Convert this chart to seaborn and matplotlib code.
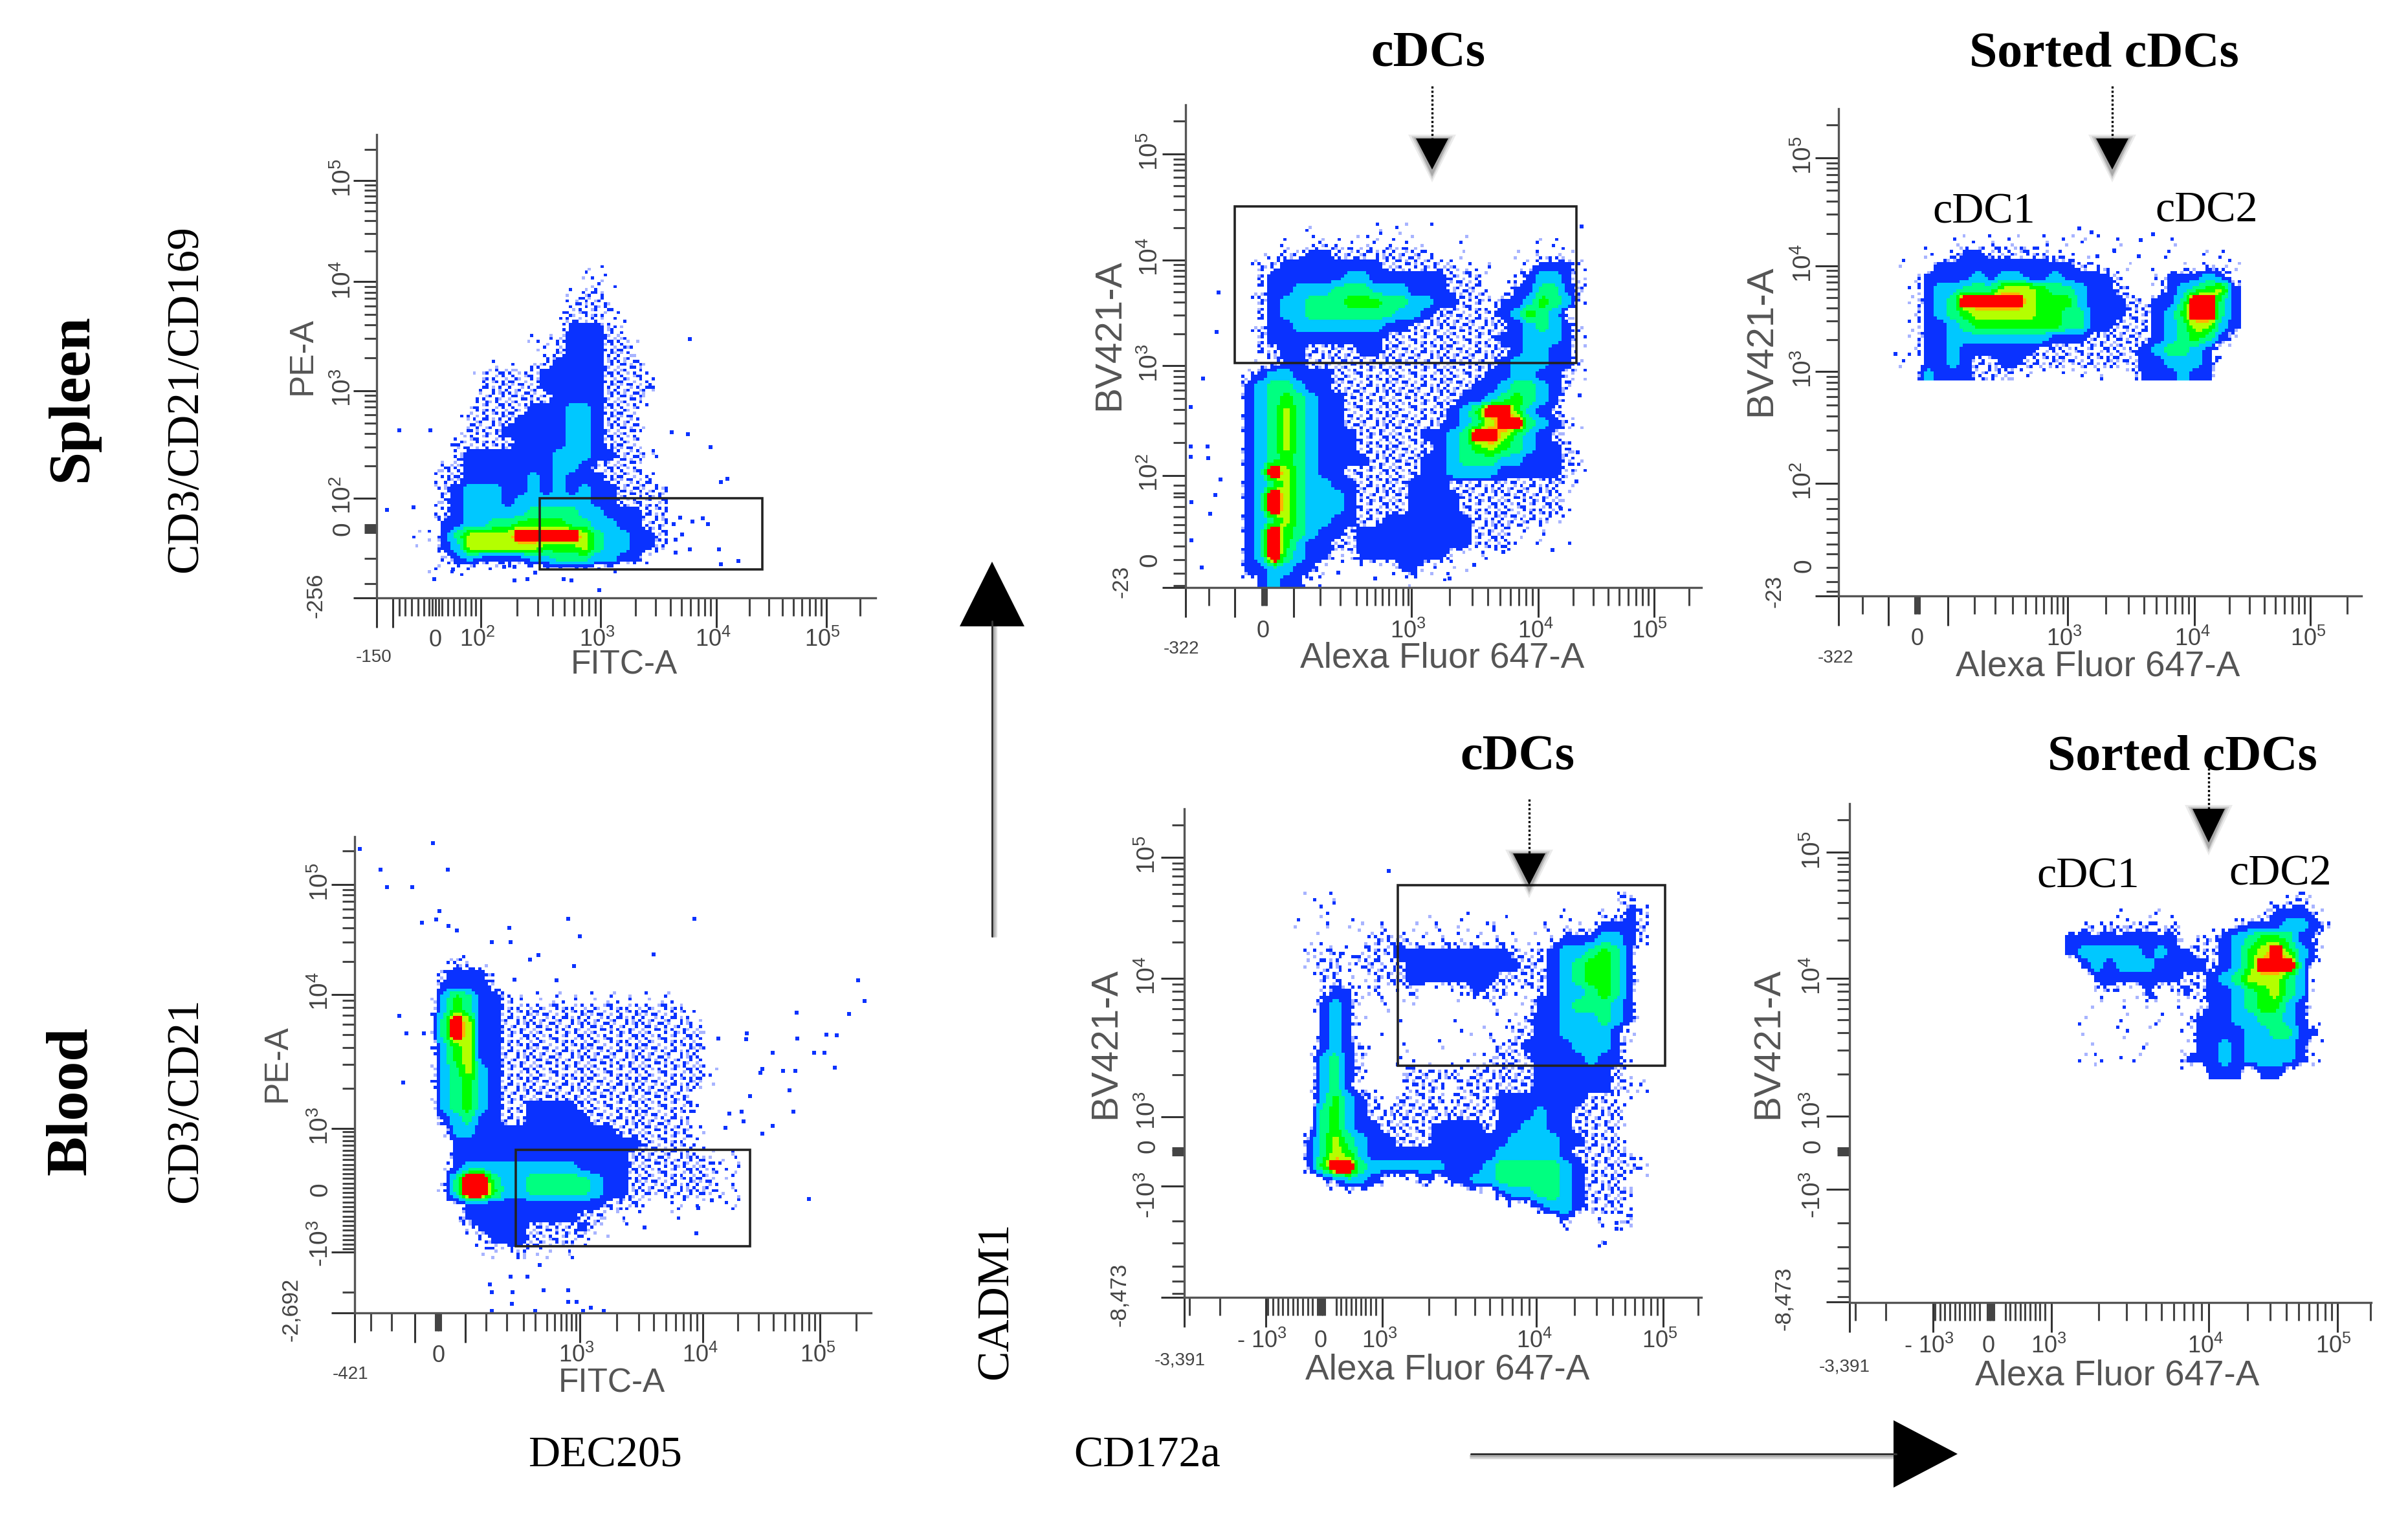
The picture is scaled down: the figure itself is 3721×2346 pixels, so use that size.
import matplotlib
matplotlib.use('Agg')
import matplotlib.pyplot as plt
from matplotlib.colors import ListedColormap
from matplotlib.patches import Rectangle
import numpy as np
import seaborn as sns

WIDTH = 3721
HEIGHT = 2346
# panel units: 1.568 to one output pixel across, yunit of the panel going down
UNIT = 1.568
CELL = 31
FINE = 4

COLORS = ['#FFFFFF', '#0A32FF', '#00C8FF', '#00FF80', '#00FF00', '#B4FF00', '#FFB400', '#FF0000', '#A8B4FF']
TILE_CODES = {'.': 0, 'b': 1, 'p': 8}
SPECKLE_DENSE = [
    'b.p..bb.p...b.pb.', '.bb.p..b..pb...b.', 'p...bb.p.b...bp..', '.pb....b..bp.b..p', 'b..p.b...pb...bb.',
    '.b...pbb.....p.b.', '..bp...b.pb.b...p', 'bb...p...b..pb.b.', '.p.bb..p..b....bp', 'b...p.b..bb.p.b..',
    '..pb...pb...b.p.b',
]
SPECKLE_SPARSE = [
    '....p.......b....', '.b......p........', '.......b.....p...', '..p..........b...', '......p..b.......',
    'b...........p....', '....b......b.....', '.........p......b', '..b..............', '.....p.....b.....',
    '.p.........p.....',
]

# density levels per row: level character followed by its run length
SPLEEN_LIVE = [
    '.14 t2', '.14 t3', '.13 t s2 t', '.13 s4', '.12 t s3 t2', '.12 t 13 s t', '.10 t . s 13 s2 t',
    '.10 t2 s 13 s2 t', '.7 t2 . t s 14 s3 t', '.6 s5 15 s3 t', '.6 s5 15 s4', '.6 s6 14 s3 t',
    '.5 s5 13 22 1 s3', '.5 s4 14 22 1 s3', '.5 s3 15 22 1 s3', '.4 s5 14 22 1 s3', '.4 s 17 23 12 s3',
    '.3 s2 17 22 1 s4', '.3 s2 15 2 1 2 13 s4', '.3 s 1 23 12 2 1 2 1 2 12 s4', '.3 s 1 23 1 26 12 s4',
    '.3 s 1 25 34 22 13 s2', '.3 12 22 32 44 32 22 12 s2', '. t2 1 3 54 75 5 3 22 12 s',
    '. t2 1 2 54 52 43 5 3 22 12 s', '.3 t 1 2 14 22 33 22 12 t', '.2 t3 .2 t .3 t .2 t . t',
]
SPLEEN_GATED = [
    '.6 t .4 t3 . t', '.4 t . t9 .3 t .5 t2', '.3 t s2 12 s8 t . t .3 t . t3', '.2 s2 18 s6 t . t . t2 13 t',
    '.2 s 16 22 16 s3 t . t 1 22 1 t', '.2 s 12 23 33 23 13 s3 t . 12 32 1 s',
    '.2 s 1 22 33 43 32 22 12 s2 t 12 2 4 3 2 t', '.2 s 1 22 37 22 1 s5 1 2 4 3 2 t',
    '.2 s 12 27 12 s8 1 2 3 2 1 t', '.2 s 19 s9 12 23 1 t', '.2 s2 12 s4 12 s10 1 22 12 t',
    '.2 t2 12 s15 1 23 12 t', '. t 1 22 13 s12 12 22 12 s t', '. 1 2 32 2 12 s11 12 2 32 2 1 s t',
    '. 1 2 3 4 3 2 12 s9 12 2 3 4 3 2 1 t', '. 1 2 3 5 3 2 12 s8 1 2 4 72 4 2 1 s',
    '. 1 2 3 5 3 2 12 s8 1 2 3 5 72 3 2 1 s t', '. 1 2 3 5 3 2 13 s5 12 2 3 72 5 3 2 1 s t',
    '. 1 2 3 5 3 2 13 s6 1 2 3 4 5 4 3 2 12 s', '. 1 2 3 4 3 2 14 s4 12 2 33 22 13 s t',
    '. 1 2 7 5 3 2 12 s6 12 24 14 1 s t', '. 1 2 3 5 3 22 12 s4 13 s8 s t', '. 1 2 7 5 3 23 1 s4 14 s8 t',
    '. 1 2 7 5 3 23 1 s4 14 s8 t', '. 1 2 3 5 3 22 12 s2 17 s6 t', '. 1 2 7 4 3 2 12 s 19 s3 t . t',
    '. 1 2 7 4 2 12 s2 19 s3 t . t . t', '. 1 2 7 3 2 12 t2 17 t .2 t', '. 12 22 12 .6 12 t . t2',
    '.2 1 2 12 . t .6 t . t .3 t',
]
SPLEEN_SORTED = [
    '.4 t2 . t3 . t5 . t .3 t', '.2 t . t 12 s5 t2 .3 t .3 t .2 t2', 't . t 111 s2 t . t . t . t5',
    '. t 14 2 1 22 12 2 1 13 s .2 t 13 2 1 t', '. t 1 22 33 53 4 32 2 12 s t . t 1 2 3 4 5 1',
    '. t 1 2 3 75 5 43 2 13 s2 12 3 72 3 1', '. t 1 2 3 4 55 42 32 13 s2 1 2 4 72 3 1',
    '. t 12 2 3 47 32 12 s3 1 2 3 52 2 1', '. t 12 22 26 13 s5 1 2 3 4 3 1 t', '. t 12 2 16 s8 1 2 32 2 1',
    't . 12 2 1 s2 12 s9 12 23 1 t', '.2 2 13 s3 t2 . t . t . t . t 13 2 12',
]
BLOOD_LIVE = [
    '.2 s t', '. s 13 t', '. 14 s', '. 2 4 3 12 s t13', '. 2 4 3 12 s15', '. 3 7 5 12 s15 t', '. 3 7 5 12 s16',
    '. 2 4 5 12 s16', '. 2 4 5 12 s16', '. 2 3 5 2 1 s16 t', '. 2 3 4 2 1 s16 t', '. 2 3 4 2 1 s15',
    '. 2 3 4 2 1 s2 14 s9 t', '. 1 2 3 12 s2 15 s8', '.2 22 12 19 s6 t', '.2 115 s4', '.2 114 s6 t3',
    '.2 1 29 14 s7 t2', '. t 3 72 3 22 34 3 2 12 s7 t2', '. t 3 72 4 22 34 3 2 12 s7 t2',
    '.2 t 111 s3 t . t3 . t2', '.3 19 s2 t3 .2 t', '.3 t 14 s4 1 t . t', '.4 t 13 s4 t . t', '.4 t3 s t2 . t',
]
BLOOD_GATED = [
    '. t . t .21 s2', '.2 t .7 t .2 t .2 t .4 t .2 t . 1 s', 't . t . t2 . t . t . t3 . s t .2 t . t3 13 s',
    '.2 t .3 s3 t9 . t2 13 22 1 s', '. s t s t s3 19 s3 1 22 3 4 3 1', '. t s2 t s2 t s 19 s2 1 2 3 4 4 3 1',
    '.2 s2 t . s3 17 s4 1 2 3 4 4 3 1', '.2 t 12 t s t2 s .2 t2 1 s2 t2 s 1 2 2 3 4 3 1',
    '.2 1 2 1 t . t . t .2 t .2 t2 . t 12 2 3 3 3 2 1', '.2 1 2 1 t .2 t .3 t .3 t2 s 12 23 3 2 1',
    '.2 1 2 1 .2 t .2 t .2 t3 . s2 12 24 1 t', '.2 1 2 1 s .2 t .2 t .3 t s2 14 23 1 t',
    '.2 2 3 1 s .2 t2 .3 t3 s3 14 2 12 t', '.2 2 3 1 s t . t s4 t s5 16 s', '.2 2 3 1 t .2 t s3 t s5 s 16 s2 t',
    '.2 2 4 2 1 s . s4 t s3 17 s2 t2', '.2 3 4 2 1 s5 t s3 t 13 2 12 s4', '.2 3 4 2 12 s4 14 s 12 22 12 s4',
    '. 1 3 5 3 2 12 s3 16 24 12 s3', '. 1 3 5 4 2 110 25 1 s5', '. 1 4 72 3 26 13 2 35 2 1 s5',
    '.3 1 22 1 .3 1 . 12 22 35 2 1 s3', '.16 1 22 32 2 1 s4', '.19 1 22 1 s3 t', '.21 1 .2 t2 s t', '.25 t', '.24 t',
]
BLOOD_SORTED = [
    '.17 t s', '.4 t .2 t .8 13 s', '. s t s t s2 t s . t . t s 13 2 2 1 s', '19 . s2 1 2 3 42 3 1 s',
    '1 25 1 2 12 s2 1 2 4 5 7 4 2 1', '. 1 2 1 23 14 s 1 2 4 73 2', '.2 17 s2 1 2 3 5 5 5 3 2',
    '.2 t s . t 1 t2 1 s 1 1 2 3 4 5 3 2', '.2 t . t . t . t . t 12 2 3 4 4 2 1',
    '. t .2 t .2 t . t 13 22 32 2 1', '. t .2 t . t .2 t 14 22 32 1 1', '.2 t .3 t .3 12 2 1 24 1 t',
    '. t2 . t2 .3 13 2 1 2 23 1 t', '.11 13 . 12',
]

# single events outside the dense populations
SPLEEN_LIVE_X = [340, 415, 310, 375, 1045, 1000, 1040, 1095, 1135, 1120, 1020, 1075, 1050, 1088, 1005, 1025, 1010, 1045,
                 1115, 1010, 1120, 1162, 425, 620, 650, 738, 757, 825, 470, 595, 620, 670, 730, 770, 790]
SPLEEN_LIVE_Y = [845, 845, 1060, 1052, 600, 850, 855, 890, 975, 985, 1080, 1082, 1090, 1098, 1098, 1125, 1140, 1165,
                 1165, 1175, 1205, 1197, 1245, 1250, 1245, 1245, 1250, 1275, 1220, 1213, 1213, 1228, 1210, 1210, 1215]
SPLEEN_GATED_X = [365, 360, 328, 298, 298, 338, 298, 340, 370, 300, 345, 358, 300, 325, 1245, 1240, 1235, 1232, 1195,
                  590, 655, 745, 925, 985, 1175, 1055]
SPLEEN_GATED_Y = [548, 648, 768, 840, 940, 940, 968, 970, 1025, 1082, 1112, 1065, 1180, 1250, 380, 810, 955, 1030, 1100,
                  1278, 1262, 1278, 1278, 1243, 1205, 1210]
SPLEEN_SORTED_X = [835, 865, 880, 920, 985, 1015, 980, 390]
SPLEEN_SORTED_Y = [385, 395, 455, 440, 415, 400, 455, 705]
BLOOD_LIVE_X = [245, 295, 310, 372, 422, 458, 437, 395, 430, 460, 480, 607, 565, 610, 678, 657, 763, 750, 778, 957, 1055,
                620, 722, 1452, 1467, 1303, 1183, 1113, 1180, 1305, 1400, 1375, 1430, 1345, 1370, 1395, 1245, 1270, 1300,
                1215, 1220, 1190, 1140, 1170, 1175, 1295, 1285, 1245, 1130, 1220, 1333, 1097, 1065, 1060, 935, 560, 610,
                650, 680, 565, 615, 690, 750, 750, 770, 613, 565, 670, 785, 805, 835, 340, 357, 400, 350]
BLOOD_LIVE_Y = [70, 122, 167, 167, 55, 122, 228, 257, 250, 265, 278, 270, 307, 307, 340, 352, 368, 247, 292, 338, 247,
                403, 405, 405, 457, 487, 540, 553, 555, 553, 545, 543, 490, 590, 590, 627, 590, 635, 635, 640, 630, 700,
                745, 740, 765, 740, 685, 775, 780, 795, 962, 965, 985, 1050, 1035, 1180, 1160, 1160, 1130, 1200, 1200,
                1195, 1195, 1225, 1225, 1230, 1248, 1248, 1248, 1240, 1248, 495, 540, 540, 665]
BLOOD_GATED_X = [778, 1330, 1330, 1302]
BLOOD_GATED_Y = [292, 1105, 1118, 1152]

# tick anchors
SPLEEN_LIVE_XDEC = [538, 828, 1108, 1375]
SPLEEN_LIVE_YDEC = [1028, 738, 445, 172]
SPLEEN_LIVE_XLOW = [340, 355, 370, 385, 400, 412, 420, 428, 436, 444, 458, 472, 486, 500, 514, 526, 1457]
SPLEEN_LIVE_YLOW = [88, 1100, 1105, 1110, 1115, 1120, 1190, 1258]
SPLEEN_GATED_XDEC = [833, 1140, 1420]
SPLEEN_GATED_YDEC = [1015, 735, 465, 195]
SPLEEN_GATED_XLOW = [342, 470, 474, 478, 482, 612, 660, 700, 725, 745, 762, 778, 795, 812, 825, 1505]
SPLEEN_GATED_YLOW = [110, 1040, 1060, 1070, 1095, 1120, 1140, 1160, 1195, 1230, 1265, 1295]
SPLEEN_SORTED_XDEC = [808, 1115, 1395]
SPLEEN_SORTED_YDEC = [1035, 750, 480, 205]
SPLEEN_SORTED_XLOW = [310, 437, 441, 445, 449, 582, 632, 675, 705, 730, 750, 768, 783, 797, 1485]
SPLEEN_SORTED_YLOW = [120, 1075, 1100, 1125, 1160, 1190, 1215, 1250, 1285, 1310]
BLOOD_LIVE_XDEC = [778, 1075, 1360]
BLOOD_LIVE_YDEC = [783, 440, 160]
BLOOD_LIVE_XLOW = [272, 322, 428, 432, 436, 440, 550, 600, 642, 670, 698, 716, 732, 745, 758, 768, 1447]
BLOOD_LIVE_YLOW = [75, 1200] + list(range(790, 1095, 12))
BLOOD_GATED_XDEC = [762, 1135, 1442]
BLOOD_GATED_YDEC = [860, 540, 262]
BLOOD_GATED_XLOW = [295, 368] + list(range(485, 600, 12)) + [606, 610, 614, 618, 622] + list(range(650, 755, 12)) + [1528]
BLOOD_GATED_YLOW = [187, 932, 936, 940, 944, 948, 1100, 1152, 1205, 1240, 1268]
BLOOD_SORTED_XDEC = [737, 1118, 1430]
BLOOD_SORTED_YDEC = [858, 540, 250]
BLOOD_SORTED_XLOW = [262, 335] + list(range(455, 575, 12)) + [582, 586, 590, 594, 598] + list(range(625, 725, 12)) + [1510]
BLOOD_SORTED_YLOW = [175, 932, 936, 940, 944, 948, 1105, 1160, 1210, 1240, 1275]

PANELS = [
    dict(crop=(400, 180), yunit=1568 / 900, xlim=(285, 1495), ylim=(1297, 48), grid=(340, 400), density=SPLEEN_LIVE,
         out=(SPLEEN_LIVE_X, SPLEEN_LIVE_Y), gate=(680, 1028, 1220, 1220), xdec=SPLEEN_LIVE_XDEC, ydec=SPLEEN_LIVE_YDEC,
         xlow=SPLEEN_LIVE_XLOW, ylow=SPLEEN_LIVE_YLOW, xlong=[325], ylong=[],
         xlabels=[('0', 428), ('$10^{2}$', 530), ('$10^{3}$', 820), ('$10^{4}$', 1100), ('$10^{5}$', 1365)], xlabel_y=1410,
         ylabels=[('$10^{5}$', 165), ('$10^{4}$', 440), ('$10^{3}$', 730), ('$10^{2}$', 1020), ('0', 1110)], ylabel_x=205,
         xmin=('-150', 278, 1457), ymin=('-256', 138, 1290), xname=('FITC-A', 885, 1478), yname=('PE-A', 105, 645)),
    dict(crop=(1650, 120), yunit=1568 / 950, xlim=(285, 1535), ylim=(1300, 70), grid=(390, 370), density=SPLEEN_GATED,
         out=(SPLEEN_GATED_X, SPLEEN_GATED_Y), gate=(405, 328, 1232, 728), xdec=SPLEEN_GATED_XDEC, ydec=SPLEEN_GATED_YDEC,
         xlow=SPLEEN_GATED_XLOW, ylow=SPLEEN_GATED_YLOW, xlong=[405, 547], ylong=[],
         xlabels=[('0', 473), ('$10^{3}$', 825), ('$10^{4}$', 1133), ('$10^{5}$', 1410)], xlabel_y=1412,
         ylabels=[('$10^{5}$', 188), ('$10^{4}$', 458), ('$10^{3}$', 728), ('$10^{2}$', 1008), ('0', 1230)], ylabel_x=200,
         xmin=('-322', 275, 1458), ymin=('-23', 130, 1285), xname=('Alexa Fluor 647-A', 908, 1482), yname=('BV421-A', 100, 655)),
    dict(crop=(2680, 120), yunit=1568 / 950, xlim=(253, 1520), ylim=(1322, 80), grid=(390, 400), density=SPLEEN_SORTED,
         out=(SPLEEN_SORTED_X, SPLEEN_SORTED_Y), gate=None, xdec=SPLEEN_SORTED_XDEC, ydec=SPLEEN_SORTED_YDEC,
         xlow=SPLEEN_SORTED_XLOW, ylow=SPLEEN_SORTED_YLOW, xlong=[373, 517], ylong=[],
         xlabels=[('0', 443), ('$10^{3}$', 800), ('$10^{4}$', 1110), ('$10^{5}$', 1390)], xlabel_y=1432,
         ylabels=[('$10^{5}$', 198), ('$10^{4}$', 473), ('$10^{3}$', 743), ('$10^{2}$', 1028), ('0', 1245)], ylabel_x=170,
         xmin=('-322', 245, 1480), ymin=('-23', 97, 1310), xname=('Alexa Fluor 647-A', 880, 1502), yname=('BV421-A', 65, 670)),
    dict(crop=(400, 1270), yunit=1568 / 950, xlim=(232, 1483), ylim=(1253, 38), grid=(400, 340), density=BLOOD_LIVE,
         out=(BLOOD_LIVE_X, BLOOD_LIVE_Y), gate=(622, 836, 1190, 1082), xdec=BLOOD_LIVE_XDEC, ydec=BLOOD_LIVE_YDEC,
         xlow=BLOOD_LIVE_XLOW, ylow=BLOOD_LIVE_YLOW, xlong=[378, 500], ylong=[1098],
         xlabels=[('0', 435), ('$10^{3}$', 770), ('$10^{4}$', 1070), ('$10^{5}$', 1355)], xlabel_y=1362,
         ylabels=[('$10^{5}$', 153), ('$10^{4}$', 433), ('$10^{3}$', 776), ('0', 938), ('-$10^{3}$', 1075)], ylabel_x=150,
         xmin=('-421', 222, 1410), ymin=('-2,692', 78, 1245), xname=('FITC-A', 855, 1432), yname=('PE-A', 45, 615)),
    dict(crop=(1650, 1150), yunit=1568 / 1050, xlim=(283, 1535), ylim=(1277, 150), grid=(540, 340), density=BLOOD_GATED,
         out=(BLOOD_GATED_X, BLOOD_GATED_Y), gate=(800, 326, 1448, 742), xdec=BLOOD_GATED_XDEC,
         ydec=BLOOD_GATED_YDEC, xlow=BLOOD_GATED_XLOW, ylow=BLOOD_GATED_YLOW, xlong=[480], ylong=[1020],
         xlabels=[('- $10^{3}$', 470), ('0', 612), ('$10^{3}$', 755), ('$10^{4}$', 1130), ('$10^{5}$', 1435)], xlabel_y=1378,
         ylabels=[('$10^{5}$', 255), ('$10^{4}$', 535), ('$10^{3}$', 845), ('0', 928), ('-$10^{3}$', 1040)], ylabel_x=195,
         xmin=('-3,391', 272, 1422), ymin=('-8,473', 125, 1270), xname=('Alexa Fluor 647-A', 920, 1445), yname=('BV421-A', 92, 690)),
    dict(crop=(2700, 1150), yunit=1568 / 1050, xlim=(247, 1512), ylim=(1288, 138), grid=(770, 340), density=BLOOD_SORTED,
         out=None, gate=None, xdec=BLOOD_SORTED_XDEC, ydec=BLOOD_SORTED_YDEC,
         xlow=BLOOD_SORTED_XLOW, ylow=BLOOD_SORTED_YLOW, xlong=[450], ylong=[1028],
         xlabels=[('- $10^{3}$', 440), ('0', 585), ('$10^{3}$', 730), ('$10^{4}$', 1110), ('$10^{5}$', 1420)], xlabel_y=1390,
         ylabels=[('$10^{5}$', 245), ('$10^{4}$', 535), ('$10^{3}$', 845), ('0', 928), ('-$10^{3}$', 1040)], ylabel_x=160,
         xmin=('-3,391', 235, 1438), ymin=('-8,473', 88, 1280), xname=('Alexa Fluor 647-A', 897, 1458), yname=('BV421-A', 50, 690)),
]

NAME_SIZES = {'FITC-A': 37, 'PE-A': 37, 'Alexa Fluor 647-A': 39.5, 'BV421-A': 42}
HEADINGS = [('cDCs', 2207, 84), ('Sorted cDCs', 3251, 84), ('cDCs', 2345, 1171), ('Sorted cDCs', 3372, 1171)]
SIDE_TITLES = [('Spleen', 112, 615), ('Blood', 112, 1701)]
STAIN_LABELS = [('CD3/CD21/CD169', 287, 617), ('CD3/CD21', 287, 1701), ('CADM1', 1540, 2010)]
PLAIN_LABELS = [('DEC205', 935, 2250), ('CD172a', 1773, 2250), ('cDC1', 3066, 328), ('cDC2', 3410, 326),
                ('cDC1', 3227, 1355), ('cDC2', 3524, 1351)]
# x, top of dotted stem, top of head, tip of head
DOWN_ARROWS = [(2213, 133, 214, 262), (3264, 133, 214, 262), (2363, 1235, 1319, 1368), (3413, 1187, 1250, 1302)]


def expand_rows(rows):
    parsed = []
    for row in rows:
        cells = []
        for token in row.split():
            cells.extend(token[0] * (int(token[1:]) if token[1:] else 1))
        parsed.append(cells)
    return parsed


def level_value(level):
    return {'.': 0.0, 't': 0.3, 's': 0.6}.get(level, None) if level in '.ts' else float(level)


def soften(values, size=3, passes=2):
    # rounds the corners of the typed blocks, as the cytometer's contour pixels do
    out = values
    for _ in range(passes):
        padded = np.pad(out, size // 2, mode='edge')
        out = np.lib.stride_tricks.sliding_window_view(padded, (size, size)).mean(axis=(2, 3))
    return out


def density_matrix(rows):
    parsed = expand_rows(rows)
    n_cols = max(len(r) for r in parsed)
    typed = np.array([[level_value(c) for c in r] + [0.0] * (n_cols - len(r)) for r in parsed])
    coarse = np.kron(typed, np.ones((FINE, FINE)))
    smooth = soften(coarse)
    fine = np.zeros(coarse.shape, dtype=int)
    for (row_f, col_f), value in np.ndenumerate(smooth):
        if value < 0.15:
            continue
        if value < 0.8:
            tile = SPECKLE_SPARSE if value < 0.45 else SPECKLE_DENSE
            fine[row_f, col_f] = TILE_CODES[tile[row_f % len(tile)][col_f % len(tile[0])]]
        else:
            fine[row_f, col_f] = int(np.clip(round(value), 1, 7))
    fine[(coarse == 7) & (smooth >= 5)] = 7
    return fine


def decade_minors(decades):
    minors = []
    for low, high in zip(decades[:-1], decades[1:]):
        minors.extend(low + (high - low) * np.log10(m) for m in range(2, 10))
    return minors


def panel_rect(panel, x0, x1, top, bottom):
    crop = panel['crop']
    left = crop[0] + x0 / UNIT
    right = crop[0] + x1 / UNIT
    upper = crop[1] + top / panel['yunit']
    lower = crop[1] + bottom / panel['yunit']
    return [left / WIDTH, 1 - lower / HEIGHT, (right - left) / WIDTH, (lower - upper) / HEIGHT]


def draw_panel(fig, panel, cmap):
    fine = density_matrix(panel['density'])
    gx, gy = panel['grid']
    n_rows, n_cols = fine.shape[0] / FINE, fine.shape[1] / FINE
    heat_ax = fig.add_axes(panel_rect(panel, gx, gx + n_cols * CELL, gy, gy + n_rows * CELL), zorder=1)
    sns.heatmap(fine, mask=fine == 0, cmap=cmap, vmin=0, vmax=len(COLORS) - 1, cbar=False,
                xticklabels=False, yticklabels=False, ax=heat_ax)
    heat_ax.patch.set_visible(False)
    heat_ax.tick_params(left=False, bottom=False)

    x0, x1 = panel['xlim']
    y0, y1 = panel['ylim']
    ax = fig.add_axes(panel_rect(panel, x0, x1, y1, y0), zorder=2)
    ax.patch.set_visible(False)

    if panel['out']:
        sns.scatterplot(x=panel['out'][0], y=panel['out'][1], marker='s', s=16, color=COLORS[1],
                        linewidth=0, ax=ax, legend=False)
    if panel['gate']:
        gl, gt, gr, gb = panel['gate']
        ax.add_patch(Rectangle((gl, gt), gr - gl, gb - gt, fill=False, edgecolor='#222222', linewidth=2.6))

    ax.set_xlim(x0, x1)
    ax.set_ylim(y0, y1)
    sns.despine(ax=ax)
    for side in ['left', 'bottom']:
        ax.spines[side].set_color('#555555')
        ax.spines[side].set_linewidth(2.4)

    ax.set_xticks([x0] + panel['xdec'] + panel['xlong'], labels=[])
    ax.set_yticks([y0] + panel['ydec'] + panel['ylong'], labels=[])
    ax.set_xticks(decade_minors(panel['xdec']) + panel['xlow'], minor=True, labels=[])
    ax.set_yticks(decade_minors(panel['ydec']) + panel['ylow'], minor=True, labels=[])
    ax.tick_params(axis='x', which='major', length=33, width=2.2, color='#333333', direction='out')
    ax.tick_params(axis='x', which='minor', length=20, width=2.2, color='#444444', direction='out')
    ax.tick_params(axis='y', which='major', length=26, width=2.2, color='#333333', direction='out')
    ax.tick_params(axis='y', which='minor', length=14, width=2.2, color='#444444', direction='out')

    for label, x in panel['xlabels']:
        ax.text(x, panel['xlabel_y'], label, ha='center', va='center', fontsize=26, color='#444444')
    for label, y in panel['ylabels']:
        ax.text(panel['ylabel_x'], y, label, ha='center', va='center', rotation=90, fontsize=28, color='#444444')
    ax.text(panel['xmin'][1], panel['xmin'][2], panel['xmin'][0], ha='center', va='center', fontsize=20, color='#444444')
    ax.text(panel['ymin'][1], panel['ymin'][2], panel['ymin'][0], ha='center', va='center', rotation=90,
            fontsize=25, color='#444444')
    ax.text(panel['xname'][1], panel['xname'][2], panel['xname'][0], ha='center', va='center',
            fontsize=NAME_SIZES[panel['xname'][0]], color='#555555')
    ax.text(panel['yname'][1], panel['yname'][2], panel['yname'][0], ha='center', va='center', rotation=90,
            fontsize=NAME_SIZES[panel['yname'][0]], color='#555555')


def draw_annotations(fig):
    ax = fig.add_axes([0, 0, 1, 1], zorder=3)
    ax.set_xlim(0, WIDTH)
    ax.set_ylim(HEIGHT, 0)
    ax.axis('off')
    ax.patch.set_visible(False)
    serif = 'Liberation Serif'
    for label, x, y in HEADINGS:
        ax.text(x, y, label, ha='center', va='center', family=serif, fontweight='bold', fontsize=56, color='black')
    for label, x, y in SIDE_TITLES:
        ax.text(x, y, label, ha='center', va='center', rotation=90, family=serif, fontweight='bold', fontsize=66, color='black')
    for label, x, y in STAIN_LABELS:
        ax.text(x, y, label, ha='center', va='center', rotation=90, family=serif, fontsize=50, color='black')
    for label, x, y in PLAIN_LABELS:
        ax.text(x, y, label, ha='center', va='center', family=serif, fontsize=49, color='black')

    for x, stem, top, tip in DOWN_ARROWS:
        ax.plot([x, x], [stem, top], color='black', linewidth=2.4, linestyle=(0, (1, 1)))
        for grow, alpha in [(12, 0.08), (7, 0.12), (3, 0.18)]:
            ax.fill([x - 25 - grow, x + 25 + grow, x], [top - grow / 2, top - grow / 2, tip + grow + 8],
                    color='black', alpha=alpha, linewidth=0)
        ax.fill([x - 25, x + 25, x], [top, top, tip], color='black', linewidth=0)

    # axis arrows for the two gating directions
    for shift, alpha in [(6, 0.15), (3, 0.25)]:
        ax.plot([1533 + shift, 1533 + shift], [1447, 960], color='black', alpha=alpha, linewidth=3)
        ax.plot([2273, 2930], [2247 + shift, 2247 + shift], color='black', alpha=alpha, linewidth=3)
    ax.plot([1533, 1533], [1447, 960], color='#333333', linewidth=2.2)
    ax.fill([1483, 1583, 1533], [968, 968, 868], color='black', linewidth=0)
    ax.plot([2273, 2930], [2247, 2247], color='#333333', linewidth=2.2)
    ax.fill([2926, 2926, 3025], [2195, 2299, 2247], color='black', linewidth=0)


def main():
    sns.set_theme(style='ticks')
    plt.rcParams['font.family'] = ['Liberation Sans', 'DejaVu Sans']
    plt.rcParams['mathtext.default'] = 'regular'
    cmap = ListedColormap(COLORS)
    fig = plt.figure(figsize=(WIDTH / 100, HEIGHT / 100), dpi=100, facecolor='white')
    for panel in PANELS:
        draw_panel(fig, panel, cmap)
    draw_annotations(fig)
    fig.savefig('out.png', dpi=100)


main()
